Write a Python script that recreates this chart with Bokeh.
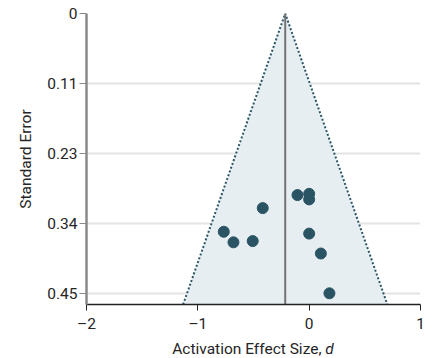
from bokeh.plotting import figure
from bokeh.models import Range1d, FixedTicker, ColumnDataSource, Div
from bokeh.layouts import column
from bokeh.embed import file_html
from bokeh.resources import INLINE

# --- data ---
effect_d = [-0.105, 0.0, 0.0, -0.417, -0.767, -0.680, -0.507, 0.0, 0.105, 0.182]
std_err = [0.292, 0.290, 0.299, 0.313, 0.351, 0.368, 0.366, 0.354, 0.386, 0.450]
pooled_d = -0.215
se_max = 0.468
z_crit = 1.96
x_ticks = [-2, -1, 0, 1]
x_tick_labels = ["\u20132", "\u20131", "0", "1"]
se_ticks = [0, 0.1125, 0.225, 0.3375, 0.45]
se_tick_labels = ["0", "0.11", "0.23", "0.34", "0.45"]

FONT = "Roboto"
FS = "15.5px"
TXT = "#252525"

p = figure(width=425, height=335, output_backend="svg", toolbar_location=None,
           x_range=Range1d(-2, 1), y_range=Range1d(se_max, 0),
           min_border_left=86, min_border_right=5, min_border_top=13, min_border_bottom=27)
p.outline_line_color = None
p.background_fill_color = "white"

# funnel
half = z_crit * se_max
p.patch([pooled_d - half, pooled_d, pooled_d + half], [se_max, 0, se_max],
        fill_color="#e7eef2", line_color=None)
p.line([pooled_d - half, pooled_d, pooled_d + half], [se_max, 0, se_max],
       line_color="#2b5666", line_width=2, line_dash="2 2")
p.line([pooled_d, pooled_d], [0, se_max], line_color="#727272", line_width=2)

src = ColumnDataSource(dict(x=effect_d, y=std_err))
p.scatter("x", "y", source=src, size=11, fill_color="#2a5464", line_color="#2a5464")

# axes
p.xgrid.visible = False
p.ygrid.grid_line_color = "#e4e4e4"
p.ygrid.grid_line_width = 2
p.ygrid.ticker = FixedTicker(ticks=se_ticks)

p.xaxis.ticker = FixedTicker(ticks=x_ticks)
p.xaxis.major_label_overrides = dict(zip(x_ticks, x_tick_labels))
p.yaxis.ticker = FixedTicker(ticks=se_ticks)
p.yaxis.major_label_overrides = dict(zip(se_ticks, se_tick_labels))

for ax in (p.xaxis, p.yaxis):
    ax.major_label_text_font = FONT
    ax.major_label_text_font_size = FS
    ax.major_label_text_color = TXT
    ax.axis_label_text_font = FONT
    ax.axis_label_text_font_size = FS
    ax.axis_label_text_font_style = "normal"
    ax.axis_label_text_color = TXT
    ax.minor_tick_line_color = None
    ax.major_tick_in = 0

p.yaxis.axis_line_color = "#8a8a8a"
p.yaxis.axis_line_width = 2.5
p.yaxis.major_tick_line_color = "#8a8a8a"
p.yaxis.major_tick_out = 7
p.yaxis.major_label_standoff = 2
p.yaxis.axis_label = "Standard Error"
p.yaxis.axis_label_standoff = 9

p.xaxis.axis_line_color = "#222222"
p.xaxis.axis_line_width = 1.5
p.xaxis.major_tick_line_color = "#222222"
p.xaxis.major_tick_out = 6
p.xaxis.major_label_standoff = 4

xlabel = Div(text="Activation Effect Size, <i>d</i>", width=334, height=18,
             margin=(5, 0, 0, 86),
             styles={"font-family": FONT, "font-size": FS, "color": TXT,
                     "text-align": "center", "line-height": "18px"})

layout = column(p, xlabel, spacing=0)
open("out.html", "w").write(file_html(layout, INLINE))
